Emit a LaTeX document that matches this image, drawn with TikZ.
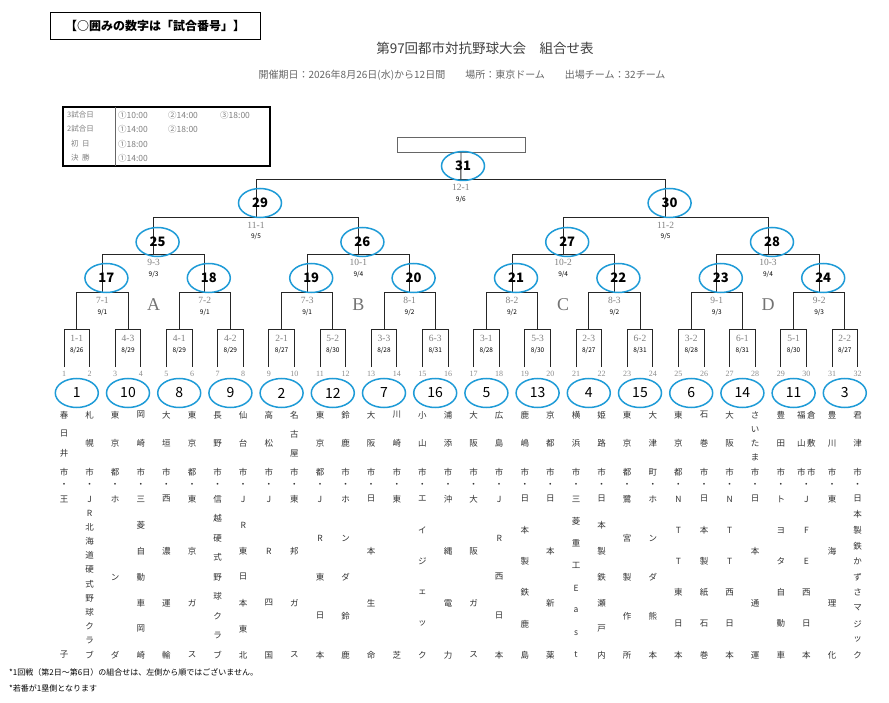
\documentclass[tikz,border=0pt]{standalone}
\usepackage{fontspec}
\setmainfont{Noto Sans CJK JP}
\newfontfamily\lsans{Liberation Serif}
\begin{document}
\begin{tikzpicture}[x=1pt,y=-1pt,
  br/.style={draw=black!85,line width=0.9pt},
  gl/.style={font=\lsans\fontsize{9.5}{9.5}\selectfont,text=black!50,inner sep=0pt},
  dl/.style={font=\fontsize{6.5}{6.5}\selectfont,inner sep=0pt},
  gc/.style={draw={rgb,255:red,30;green,155;blue,215},line width=1.5pt,ellipse,minimum width=43pt,minimum height=29pt,inner sep=0pt,font=\fontsize{14}{14}\selectfont},
  tn/.style={font=\fontsize{8.5}{8.5}\selectfont,text=black!80,inner sep=0pt},
  lg/.style={font=\fontsize{8.5}{8.5}\selectfont,text=black!50,anchor=west,inner sep=0pt}]
\usetikzlibrary{shapes.geometric}
\useasboundingbox[fill=white] (0,0) rectangle (889,703);
% header
\node[draw,line width=1pt,minimum width=210pt,minimum height=27pt,font=\bfseries\fontsize{12}{12}\selectfont] (hbox) at (155,26) {【○囲みの数字は「試合番号」】};
\node[font=\fontsize{13.5}{13.5}\selectfont,text=black!75] (title) at (485,48) {第97回都市対抗野球大会\quad 組合せ表};
\node[font=\fontsize{10}{10}\selectfont,text=black!60] (sub) at (462,75) {開催期日：2026年8月26日(水)から12日間\qquad 場所：東京ドーム\qquad 出場チーム：32チーム};
% legend
\draw[line width=1.3pt] (63,107) rectangle (270,166);
\draw[black!60] (115,107) -- (115,166);
\node[lg,font=\fontsize{7.5}{7.5}\selectfont] (l1) at (67,115) {3試合日};
\node[lg,font=\fontsize{7.5}{7.5}\selectfont] (l2) at (67,129) {2試合日};
\node[lg,font=\fontsize{7.5}{7.5}\selectfont] (l3) at (71,144) {初\ \ 日};
\node[lg,font=\fontsize{7.5}{7.5}\selectfont] (l4) at (71,158) {決\ \ 勝};
\node[lg] (t11) at (118,115) {①10:00};
\node[lg] (t12) at (168,115) {②14:00};
\node[lg] (t13) at (220,115) {③18:00};
\node[lg] (t21) at (118,129) {①14:00};
\node[lg] (t22) at (168,129) {②18:00};
\node[lg] (t31) at (118,144) {①18:00};
\node[lg] (t41) at (118,158) {①14:00};
% final box
\node[draw=black!60,line width=0.9pt,minimum width=128pt,minimum height=15pt] (fbox) at (461,144.5) {};
% round 1
\foreach \k/\g/\d in {1/1-1/{8/26},2/4-3/{8/29},3/4-1/{8/29},4/4-2/{8/29},5/2-1/{8/27},6/5-2/{8/30},7/3-3/{8/28},8/6-3/{8/31},9/3-1/{8/28},10/5-3/{8/30},11/2-3/{8/27},12/6-2/{8/31},13/3-2/{8/28},14/6-1/{8/31},15/5-1/{8/30},16/2-2/{8/27}}{
  \pgfmathsetmacro\xa{64+(2*\k-2)*25.6}
  \pgfmathsetmacro\xb{64+(2*\k-1)*25.6}
  \pgfmathsetmacro\xm{(\xa+\xb)/2}
  \draw[br] (\xa,367) -- (\xa,329) -- (\xb,329) -- (\xb,367);
  \node[gl] (ra\k) at (\xm,338) {\g};
  \node[dl] (da\k) at (\xm,351) {\d};
}
% round 2
\foreach \k/\g/\d in {1/7-1/{9/1},2/7-2/{9/1},3/7-3/{9/1},4/8-1/{9/2},5/8-2/{9/2},6/8-3/{9/2},7/9-1/{9/3},8/9-2/{9/3}}{
  \pgfmathsetmacro\xa{64+(4*\k-3.5)*25.6}
  \pgfmathsetmacro\xb{64+(4*\k-1.5)*25.6}
  \pgfmathsetmacro\xm{(\xa+\xb)/2}
  \draw[br] (\xa,329) -- (\xa,292) -- (\xb,292) -- (\xb,329);
  \node[gl] (rb\k) at (\xm,300) {\g};
  \node[dl] (db\k) at (\xm,313) {\d};
}
% round 3
\foreach \k/\g/\d in {1/9-3/{9/3},2/10-1/{9/4},3/10-2/{9/4},4/10-3/{9/4}}{
  \pgfmathsetmacro\xa{64+(8*\k-6.5)*25.6}
  \pgfmathsetmacro\xb{64+(8*\k-2.5)*25.6}
  \pgfmathsetmacro\xm{(\xa+\xb)/2}
  \draw[br] (\xa,292) -- (\xa,254) -- (\xb,254) -- (\xb,292);
  \node[gl] (rc\k) at (\xm,262) {\g};
  \node[dl] (dc\k) at (\xm,275) {\d};
}
% round 4
\foreach \k/\g/\d in {1/11-1/{9/5},2/11-2/{9/5}}{
  \pgfmathsetmacro\xa{64+(16*\k-12.5)*25.6}
  \pgfmathsetmacro\xb{64+(16*\k-4.5)*25.6}
  \pgfmathsetmacro\xm{(\xa+\xb)/2}
  \draw[br] (\xa,254) -- (\xa,217) -- (\xb,217) -- (\xb,254);
  \node[gl] (rd\k) at (\xm,225) {\g};
  \node[dl] (dd\k) at (\xm,237) {\d};
}
% final
\draw[br] (256,217) -- (256,179) -- (665.6,179) -- (665.6,217);
\draw[br] (fbox.south) -- (460.8,179);
\node[gl] (re) at (460.8,187) {12-1};
\node[dl] (de) at (460.8,200) {9/6};
% region letters
\foreach \k/\L in {1/A,2/B,3/C,4/D}{
  \node[font=\lsans\fontsize{18}{18}\selectfont,text=black!55] (reg\L) at ({64+(8*\k-4.5)*25.6},305) {\L};
}
% column numbers
\foreach \i in {1,...,32}{
  \node[font=\lsans\fontsize{8}{8}\selectfont,text=black!45,inner sep=0pt] (cn\i) at ({64+(\i-1)*25.6},374) {\i};
}
% game circles
\foreach \n [count=\k] in {1,10,8,9,2,12,7,16,5,13,4,15,6,14,11,3}{
  \node[gc] (g\n) at ({64+(2*\k-1.5)*25.6},393) {\n};
}
\foreach \n [count=\k] in {17,18,19,20,21,22,23,24}{
  \node[gc,font=\bfseries\fontsize{13}{13}\selectfont] (g\n) at ({68+(4*\k-2.5)*25.6},278) {\n};
}
\foreach \n [count=\k] in {25,26,27,28}{
  \node[gc,font=\bfseries\fontsize{13}{13}\selectfont] (g\n) at ({68+(8*\k-4.5)*25.6},242) {\n};
}
\foreach \n [count=\k] in {29,30}{
  \node[gc,font=\bfseries\fontsize{13}{13}\selectfont] (g\n) at ({68+(16*\k-8.5)*25.6},203) {\n};
}
\node[gc,font=\bfseries\fontsize{13}{13}\selectfont] (g31) at (463,166) {31};
% teams
\newcommand\teamname[3]{%
  \pgfmathsetmacro\tx{64+(#1-1)*25.6}%
  \foreach \c [count=\j] in {#2}{\xdef\ncity{\j}}%
  \foreach \c [count=\j] in {#3}{\xdef\ncomp{\j}}%
  \foreach \c [count=\j] in {#2}{\node[tn] (c#1-\j) at (\tx,{415+(\j-1)*57/(\ncity-1)}) {\c};}%
  \node[tn] (dot#1) at (\tx,485) {・};%
  \foreach \c [count=\j] in {#3}{\node[tn] (p#1-\j) at (\tx,{499+(\j-1)*156/(\ncomp-1)}) {\c};}%
}
\teamname{1}{春,日,井,市}{王,子}
\teamname{2}{札,幌,市}{J,R,北,海,道,硬,式,野,球,ク,ラ,ブ}
\teamname{3}{東,京,都}{ホ,ン,ダ}
\teamname{4}{岡,崎,市}{三,菱,自,動,車,岡,崎}
\teamname{5}{大,垣,市}{西,濃,運,輸}
\teamname{6}{東,京,都}{東,京,ガ,ス}
\teamname{7}{長,野,市}{信,越,硬,式,野,球,ク,ラ,ブ}
\teamname{8}{仙,台,市}{J,R,東,日,本,東,北}
\teamname{9}{高,松,市}{J,R,四,国}
\teamname{10}{名,古,屋,市}{東,邦,ガ,ス}
\teamname{11}{東,京,都}{J,R,東,日,本}
\teamname{12}{鈴,鹿,市}{ホ,ン,ダ,鈴,鹿}
\teamname{13}{大,阪,市}{日,本,生,命}
\teamname{14}{川,崎,市}{東,芝}
\teamname{15}{小,山,市}{エ,イ,ジ,ェ,ッ,ク}
\teamname{16}{浦,添,市}{沖,縄,電,力}
\teamname{17}{大,阪,市}{大,阪,ガ,ス}
\teamname{18}{広,島,市}{J,R,西,日,本}
\teamname{19}{鹿,嶋,市}{日,本,製,鉄,鹿,島}
\teamname{20}{京,都,市}{日,本,新,薬}
\teamname{21}{横,浜,市}{三,菱,重,工,E,a,s,t}
\teamname{22}{姫,路,市}{日,本,製,鉄,瀬,戸,内}
\teamname{23}{東,京,都}{鷺,宮,製,作,所}
\teamname{24}{大,津,町}{ホ,ン,ダ,熊,本}
\teamname{25}{東,京,都}{N,T,T,東,日,本}
\teamname{26}{石,巻,市}{日,本,製,紙,石,巻}
\teamname{27}{大,阪,市}{N,T,T,西,日,本}
\teamname{28}{さ,い,た,ま,市}{日,本,通,運}
\teamname{29}{豊,田,市}{ト,ヨ,タ,自,動,車}
\teamname{31}{豊,川,市}{東,海,理,化}
\teamname{32}{君,津,市}{日,本,製,鉄,か,ず,さ,マ,ジ,ッ,ク}
% team 30 (two cities)
\foreach \c [count=\j] in {福,山,市}{\node[tn] (c30a-\j) at ({64+29*25.6-5},{415+(\j-1)*28.5}) {\c};}
\foreach \c [count=\j] in {倉,敷,市}{\node[tn] (c30b-\j) at ({64+29*25.6+5},{415+(\j-1)*28.5}) {\c};}
\node[tn] (dot30) at ({64+29*25.6},485) {・};
\foreach \c [count=\j] in {J,F,E,西,日,本}{\node[tn] (p30-\j) at ({64+29*25.6},{499+(\j-1)*156/5}) {\c};}
% footnotes
\node[font=\fontsize{8}{8}\selectfont,anchor=west,inner sep=0pt] (fn1) at (9,672) {*1回戦（第2日～第6日）の組合せは、左側から順ではございません。};
\node[font=\fontsize{8}{8}\selectfont,anchor=west,inner sep=0pt] (fn2) at (9,688) {*若番が1塁側となります};
\end{tikzpicture}
\end{document}
